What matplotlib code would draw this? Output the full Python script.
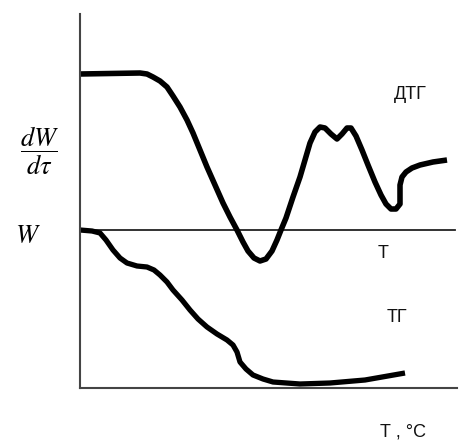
import matplotlib
matplotlib.use("Agg")
import matplotlib.pyplot as plt
import numpy as np

plt.rcParams['mathtext.fontset'] = 'stix'

# DTG curve (x = temperature axis position, y = signal height)
t_dtg = [0, 60, 67, 73, 80, 87, 93, 100, 107, 113, 120, 127, 135, 143, 150, 157, 163,
         168, 174, 180, 186, 192, 197, 201, 206, 213, 220, 225, 230, 235, 240, 245, 251,
         257, 262, 267, 271, 276, 282, 288, 295, 301, 306, 311, 316, 320, 320, 320, 322,
         326, 332, 340, 353, 367]
dtg = [314, 315, 314, 311, 307, 301, 292, 281, 268, 255, 238, 221, 203, 185, 171, 158, 146,
       137, 130, 127, 129, 137, 148, 158, 170, 191, 211, 228, 245, 256, 261, 260, 254,
       249, 254, 260, 260, 252, 238, 223, 206, 193, 184, 179, 179, 184, 193, 203, 211,
       216, 220, 223, 226, 228]

# TG curve
t_tg = [0, 12, 20, 26, 33, 40, 47, 57, 67, 74, 80, 87, 93, 102, 110, 118, 127, 137,
        147, 153, 157, 160, 166, 173, 183, 193, 220, 250, 285, 325]
tg = [158, 157, 155, 148, 138, 130, 125, 122, 121, 118, 113, 106, 98, 88, 78, 69, 61, 54,
      48, 43, 36, 26, 19, 13, 9, 6, 4, 5, 8, 15]

# temperature baseline
t_line = [0, 375]
t_level = [158, 158]

fig = plt.figure(figsize=(4.64, 4.46), dpi=100)
ax = fig.add_axes([80 / 464, 58 / 446, 377 / 464, 374 / 446])
ax.set_xlim(0, 377)
ax.set_ylim(0, 374)

for s in ['top', 'right']:
    ax.spines[s].set_visible(False)
for s in ['left', 'bottom']:
    ax.spines[s].set_color('#444444')
    ax.spines[s].set_linewidth(1.5)
ax.set_xticks([])
ax.set_yticks([])

ax.plot(t_line, t_level, color='#222222', lw=1.3)
ax.plot(t_dtg, dtg, color='black', lw=4, solid_joinstyle='round', solid_capstyle='butt')
ax.plot(t_tg, tg, color='black', lw=3.8, solid_joinstyle='round', solid_capstyle='butt')

lab = dict(family='Liberation Sans', fontsize=13, color='#111111',
           ha='center', va='center', clip_on=False)
ax.text(330, 294, 'ДТГ', **lab)
ax.text(303, 135, 'Т', **lab)
ax.text(317, 70, 'ТГ', **lab)
ax.text(323, -44, 'Т , °С', **lab)

ax.text(-52, 152, r'$W$', fontsize=19, ha='center', va='center', clip_on=False)
ax.text(-40, 237, r'$\dfrac{dW}{d\tau}$', fontsize=19, ha='center', va='center', clip_on=False)

fig.savefig('out.png', dpi=100)
